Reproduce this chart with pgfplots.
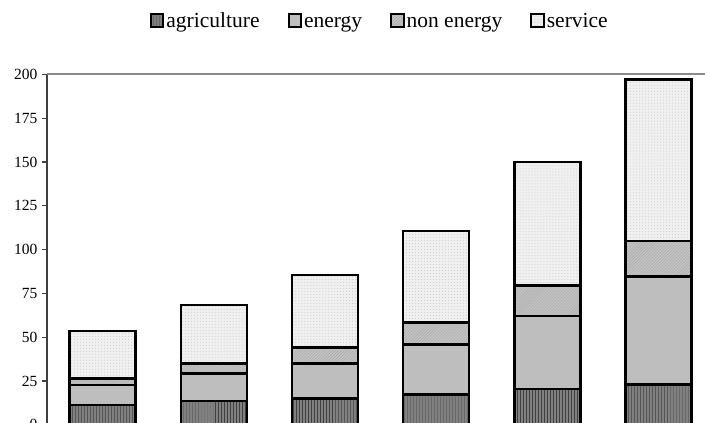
\documentclass[border=0pt]{standalone}
\usepackage{pgfplots}
\pgfplotsset{compat=1.18}
\usetikzlibrary{patterns}
\usepackage{fontspec}
\setmainfont{Liberation Serif}
\definecolor{agri}{HTML}{808080}
\definecolor{ener}{HTML}{BEBEBE}
\definecolor{nonen}{HTML}{C4C4C4}
\definecolor{serv}{HTML}{F0F0F0}
\definecolor{axdark}{HTML}{404040}
\definecolor{axgray}{HTML}{8C8C8C}
\begin{document}
\begin{tikzpicture}
\begin{axis}[
  at={(47bp,-1.8bp)}, anchor=south west,
  scale only axis, width=667bp, height=350.5bp,
  xmin=-0.5, xmax=5.5, ymin=0, ymax=200,
  ybar stacked, bar width=66bp,
  axis line style={draw=none},
  xtick=\empty,
  ytick={0,25,...,200},
  ytick pos=left, tick align=outside, major tick length=4.5bp,
  tick style={axdark, line width=1.2bp},
  /pgf/number format/assume math mode=true,
  yticklabel style={font=\fontsize{15.5bp}{18bp}\selectfont, xshift=-1.5bp},
  legend columns=-1,
  legend style={at={(0.499,1.148)}, anchor=center, draw=none, fill=none,
    font=\fontsize{21.5bp}{24bp}\selectfont,
    /tikz/every even column/.append style={column sep=26bp},
    nodes={inner xsep=2bp, inner ysep=0bp, text height=15bp, text depth=5bp}},
  legend image code/.code={\draw[#1, draw=black, line width=2bp] (0bp,-4.5bp) rectangle (12.5bp,8bp);},
  clip=false,
]
\addplot[draw=black, line width=2.5bp, fill=agri, postaction={pattern=vertical lines, pattern color=black!75}] coordinates {(0,11.3) (1,13.6) (2,15.1) (3,17.3) (4,20.4) (5,23.1)};
\addplot[draw=black, line width=2.5bp, fill=ener] coordinates {(0,11.4) (1,15.8) (2,20.0) (3,28.6) (4,41.6) (5,61.4)};
\addplot[draw=black, line width=2.5bp, fill=nonen, postaction={pattern=north east lines, pattern color=black!35}] coordinates {(0,3.8) (1,5.7) (2,8.9) (3,12.4) (4,17.4) (5,20.5)};
\addplot[draw=black, line width=2.5bp, fill=serv, postaction={pattern=dots, pattern color=black!22}] coordinates {(0,27.0) (1,33.3) (2,41.5) (3,52.2) (4,70.6) (5,92.0)};
\legend{agriculture,energy,non energy,service}
\draw[axgray, line width=2bp] (rel axis cs:0,1) -- (rel axis cs:1,1);
\draw[axdark, line width=2bp] (rel axis cs:0,0) -- (rel axis cs:0,1);
\end{axis}
\pgfresetboundingbox
\useasboundingbox (0,0) rectangle (705bp,423bp);
\end{tikzpicture}
\end{document}
